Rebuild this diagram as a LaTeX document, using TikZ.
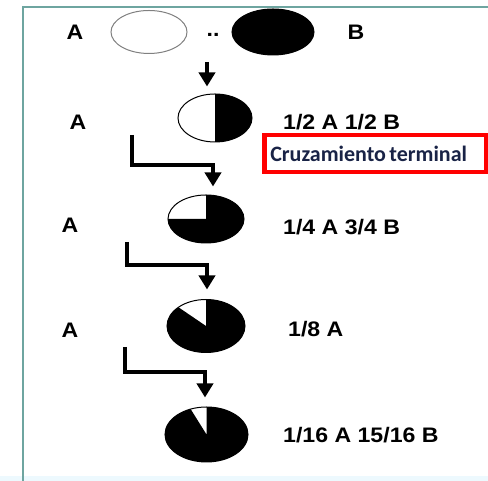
\documentclass[tikz,border=0pt]{standalone}
\usepackage{fontspec}
\setmainfont{Liberation Sans}
\newfontfamily\lblfont[FakeStretch=1.1]{Liberation Sans Bold}
\newfontfamily\notefont{Carlito Bold}
\usetikzlibrary{shapes.geometric,arrows.meta}
\definecolor{frameteal}{RGB}{110,165,160}
\definecolor{notenavy}{RGB}{25,35,70}

\begin{document}
\begin{tikzpicture}[x=1pt,y=1pt,
  lbl/.style={font=\lblfont\fontsize{21}{24}\selectfont,inner sep=0pt},
  gen/.style={ellipse,draw,line width=1pt,fill=white,inner sep=0pt},
  cross/.style={line width=3.5pt,-{Triangle[width=16pt,length=14pt]}}]
\useasboundingbox (0,0) rectangle (488,481);
% frame
  \fill[cyan!7] (0,0) rectangle (488,5);
  \draw[frameteal,line width=1.5pt] (23,0) -- (23,474) -- (488,474);
% Parents
  \node[lbl] (pA) at (75,449) {A};
  \node[gen,draw=gray,minimum width=76pt,minimum height=43pt] (pw) at (149,449) {};
  \node[lbl] (dots) at (213,446) {..};
  \node[gen,fill=black,minimum width=82pt,minimum height=46pt] (pb) at (273,449) {};
  \node[lbl] (pB) at (356,449) {B};
% First generation
  \node[lbl] (a1) at (78,359) {A};
  \node[gen,minimum width=74pt,minimum height=48pt] (g1) at (215,363) {};
  \fill (g1.center) -- ++(-90:37 and 24) arc[start angle=-90,end angle=90,x radius=37,y radius=24] -- cycle;
  \node[lbl,anchor=west] (r1) at (283,358.5) {1/2 A 1/2 B};
  \node[draw=red,line width=4.5pt,minimum width=222pt,minimum height=37pt,text width=210pt,
        inner xsep=6pt,anchor=west,text=notenavy] (note) at (262,327.5)
        {\notefont\fontsize{22}{25}\selectfont Cruzamiento terminal};
% bond
  \coordinate (d0) at (207,419);
  \draw[cross,shorten >=7pt] (d0) -- (d0 |- g1.north);
% Second generation
  \node[lbl] (a2) at (70,256) {A};
  \node[gen,minimum width=76pt,minimum height=48pt] (g2) at (206,262) {};
  \fill (g2.center) -- ++(180:38 and 24) arc[start angle=180,end angle=450,x radius=38,y radius=24] -- cycle;
  \node[lbl,anchor=west] (r2) at (283,254) {1/4 A 3/4 B};
% bond
  \coordinate (e1) at (132,346);
  \coordinate (k1) at (213,316);
  \draw[cross,shorten >=8pt] (e1) |- (k1) -- (k1 |- g2.north);
% Third generation
  \node[lbl] (a3) at (70,151) {A};
  \node[gen,minimum width=78pt,minimum height=53pt] (g3) at (206,155) {};
  \fill (g3.center) -- ++(135:39 and 26.5) arc[start angle=135,end angle=450,x radius=39,y radius=26.5] -- cycle;
  \node[lbl,anchor=west] (r3) at (288,152) {1/8 A};
% bond
  \coordinate (e2) at (127,239);
  \coordinate (k2) at (207,216);
  \draw[cross,shorten >=9.5pt] (e2) |- (k2) -- (k2 |- g3.north);
% Fourth generation
  \node[gen,minimum width=83pt,minimum height=55pt] (g4) at (206.5,46.5) {};
  \fill (g4.center) -- ++(112.5:41.5 and 27.5) arc[start angle=112.5,end angle=450,x radius=41.5,y radius=27.5] -- cycle;
  \node[lbl,anchor=west] (r4) at (283,45.5) {1/16 A 15/16 B};
% bond
  \coordinate (e3) at (125,134);
  \coordinate (k3) at (205,109);
  \draw[cross,shorten >=9pt] (e3) |- (k3) -- (k3 |- g4.north);
\end{tikzpicture}
\end{document}
